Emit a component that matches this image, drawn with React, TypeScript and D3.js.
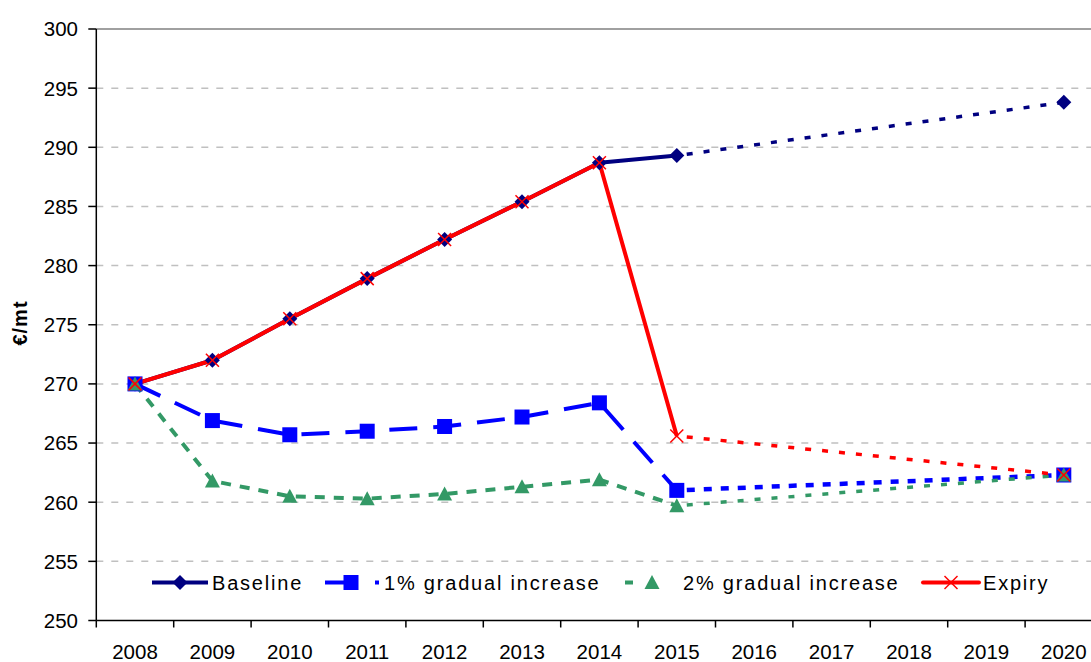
import React from "react";
import * as d3 from "d3";

const years = [2008, 2009, 2010, 2011, 2012, 2013, 2014, 2015, 2016, 2017, 2018, 2019, 2020];
const yTicks = [250, 255, 260, 265, 270, 275, 280, 285, 290, 295, 300];

// values 2008-2015 (solid/dashed part), then 2015 -> 2020 (dotted part)
const baseline = [270.0, 272.0, 275.5, 278.9, 282.2, 285.4, 288.7, 289.3];
const baseline2020 = 293.8;
const gradual1 = [270.0, 266.9, 265.7, 266.0, 266.4, 267.2, 268.4, 261.0];
const gradual1_2020 = 262.3;
const gradual2 = [270.0, 261.8, 260.5, 260.3, 260.7, 261.3, 261.9, 259.7];
const gradual2_2020 = 262.3;
const expiry = [270.0, 272.0, 275.5, 278.9, 282.2, 285.4, 288.7, 265.6];
const expiry2020 = 262.3;

const W = 1091;
const H = 662;
const left = 96.3;
const top = 29;
const bottom = 620.5;
const catW = 77.4;

const x = d3.scaleBand<number>().domain(years).range([left, left + catW * years.length]).padding(0);
const cx = (yr: number) => (x(yr) as number) + x.bandwidth() / 2;
const y = d3.scaleLinear().domain([250, 300]).range([bottom, top]);

const NAVY = "#000080";
const BLUE = "#0000ff";
const GREEN = "#339966";
const RED = "#ff0000";

type Series = {
  name: string;
  vals: number[];
  end: number;
  color: string;
  dash: string | undefined;
  marker: "diamond" | "square" | "triangle" | "x";
};

const series: Series[] = [
  { name: "Baseline", vals: baseline, end: baseline2020, color: NAVY, dash: undefined, marker: "diamond" },
  { name: "1% gradual increase", vals: gradual1, end: gradual1_2020, color: BLUE, dash: "28 16", marker: "square" },
  { name: "2% gradual increase", vals: gradual2, end: gradual2_2020, color: GREEN, dash: "10 9", marker: "triangle" },
  { name: "Expiry", vals: expiry, end: expiry2020, color: RED, dash: undefined, marker: "x" },
];

const line = d3
  .line<[number, number]>()
  .x((d) => d[0])
  .y((d) => d[1]);

function Marker({ type, px, py, color }: { type: string; px: number; py: number; color: string }) {
  if (type === "diamond") {
    const s = 7.5;
    return <path d={`M${px},${py - s}L${px + s},${py}L${px},${py + s}L${px - s},${py}Z`} fill={color} />;
  }
  if (type === "square") {
    const s = 7.5;
    return <rect x={px - s} y={py - s} width={2 * s} height={2 * s} fill={color} />;
  }
  if (type === "triangle") {
    const s = 7.5;
    return <path d={`M${px},${py - s}L${px + s},${py + s - 1}L${px - s},${py + s - 1}Z`} fill={color} />;
  }
  const s = 6.5;
  return (
    <g stroke={color} strokeWidth={1.5}>
      <line x1={px - s} y1={py - s} x2={px + s} y2={py + s} />
      <line x1={px - s} y1={py + s} x2={px + s} y2={py - s} />
    </g>
  );
}

export default function App() {
  const font = "'Liberation Sans', Arial, sans-serif";
  const firstYears = years.slice(0, 8);
  return (
    <div style={{ position: "absolute", left: 0, top: 0 }}>
      <svg width={W} height={H} style={{ display: "block", background: "#fff" }} fontFamily={font}>
        {/* gridlines */}
        {yTicks.map((t) =>
          t === 250 ? null : (
            <line
              key={t}
              x1={left}
              x2={left + catW * years.length}
              y1={y(t)}
              y2={y(t)}
              stroke={t === 300 ? "#808080" : "#c0c0c0"}
              strokeWidth={1.5}
              strokeDasharray={t === 300 ? undefined : "7 8"}
            />
          )
        )}
        {/* y axis */}
        <line x1={left} x2={left} y1={top} y2={bottom} stroke="#000" strokeWidth={1.5} />
        {yTicks.map((t) => (
          <g key={t}>
            <line x1={left - 8} x2={left} y1={y(t)} y2={y(t)} stroke="#000" strokeWidth={1.5} />
            <text x={78} y={y(t)} dy="0.36em" textAnchor="end" fontSize={20.5} fill="#000">
              {t}
            </text>
          </g>
        ))}
        {/* x axis */}
        <line x1={left} x2={left + catW * years.length} y1={bottom} y2={bottom} stroke="#000" strokeWidth={1.5} />
        {years.map((yr) => (
          <line key={"t" + yr} x1={x(yr) as number} x2={x(yr) as number} y1={bottom} y2={bottom + 7} stroke="#000" strokeWidth={1.5} />
        ))}
        {years.map((yr) => (
          <text key={"l" + yr} x={cx(yr)} y={659} textAnchor="middle" fontSize={20.5} fill="#000">
            {yr}
          </text>
        ))}
        {/* y title */}
        <text
          transform={`translate(27,323) rotate(-90)`}
          textAnchor="middle"
          fontSize={20}
          fontWeight="bold"
          letterSpacing="1px"
          fill="#000"
        >
          €/mt
        </text>

        {/* lines */}
        {series.map((s) => {
          const pts: [number, number][] = s.vals.map((v, i) => [cx(firstYears[i]), y(v)]);
          const ext: [number, number][] = [
            [cx(2015), y(s.vals[7])],
            [cx(2020), y(s.end)],
          ];
          return (
            <g key={s.name}>
              <path
                d={line(pts) as string}
                fill="none"
                stroke={s.color}
                strokeWidth={4}
                strokeDasharray={s.dash}
                strokeLinejoin="round"
              />
              <path
                d={line(ext) as string}
                fill="none"
                stroke={s.color}
                strokeWidth={s.color === BLUE ? 4.5 : 3.5}
                strokeDasharray={s.color === BLUE ? "8 9" : "6 11"}
                strokeDashoffset={-10}
              />
            </g>
          );
        })}
        {/* markers */}
        {series.map((s) => (
          <g key={"m" + s.name}>
            {s.vals.map((v, i) => (
              <Marker key={i} type={s.marker} px={cx(firstYears[i])} py={y(v)} color={s.color} />
            ))}
            <Marker type={s.marker} px={cx(2020)} py={y(s.end)} color={s.color} />
          </g>
        ))}

        {/* legend */}
        <g fontSize={20} fill="#000" letterSpacing="1.8px">
          <line x1={152} x2={208} y1={582.5} y2={582.5} stroke={NAVY} strokeWidth={4} />
          <Marker type="diamond" px={180} py={582.5} color={NAVY} />
          <text x={212} y={590}>Baseline</text>

          <line x1={325} x2={345} y1={582.5} y2={582.5} stroke={BLUE} strokeWidth={4} />
          <Marker type="square" px={351} py={582.5} color={BLUE} />
          <rect x={375} y={580.5} width={4} height={4} fill={BLUE} />
          <text x={384} y={590}>1% gradual increase</text>

          <rect x={625} y={580.5} width={8} height={4} fill={GREEN} />
          <Marker type="triangle" px={652} py={582.5} color={GREEN} />
          <text x={683} y={590}>2% gradual increase</text>

          <line x1={923} x2={979} y1={582.5} y2={582.5} stroke={RED} strokeWidth={4} strokeLinecap="round" />
          <Marker type="x" px={951} py={582.5} color={RED} />
          <text x={983} y={590}>Expiry</text>
        </g>
      </svg>
    </div>
  );
}
